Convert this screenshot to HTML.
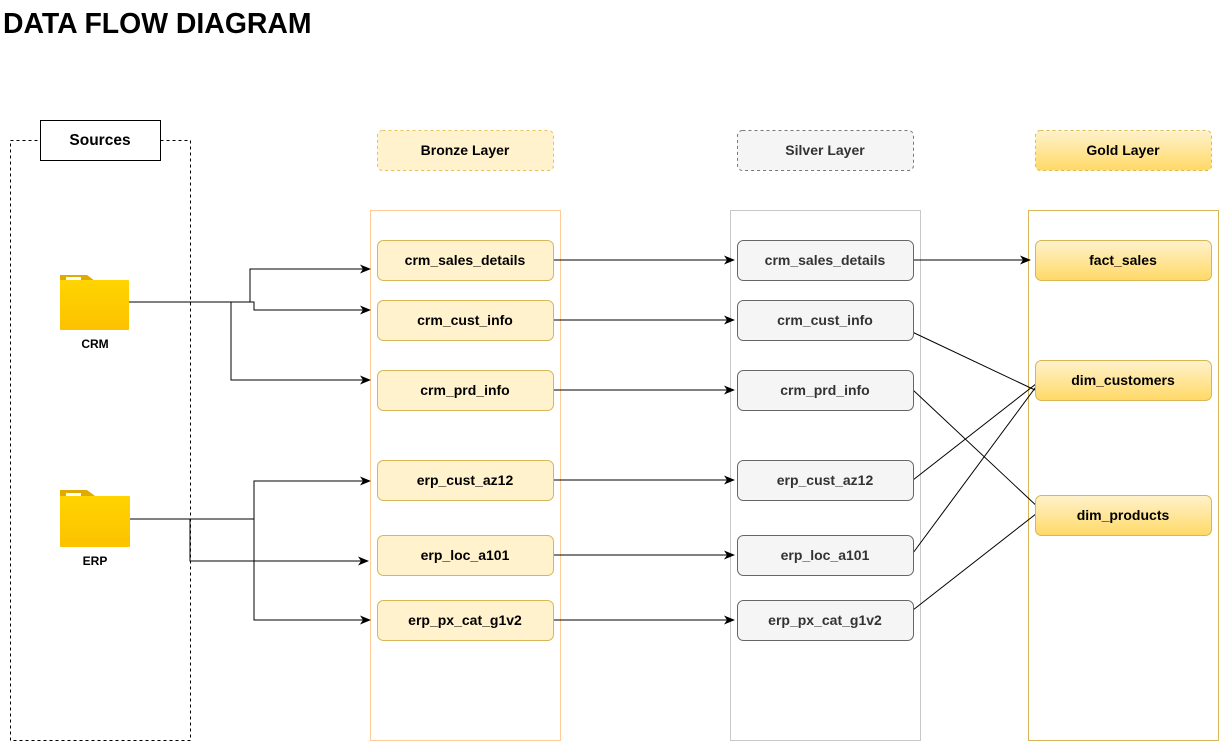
<!DOCTYPE html>
<html><head><meta charset="utf-8"><style>
html,body{margin:0;padding:0;background:#fff;width:1219px;height:741px;overflow:hidden}
svg{display:block}
text{font-family:"Liberation Sans",Arial,sans-serif;font-weight:bold}
</style></head><body>
<svg width="1219" height="741" viewBox="0 0 1219 741" xmlns="http://www.w3.org/2000/svg">
<defs>
<linearGradient id="gy" x1="0" y1="0" x2="0" y2="1"><stop offset="0" stop-color="#fff2cc"/><stop offset="1" stop-color="#ffd966"/></linearGradient>
<linearGradient id="fold" x1="0" y1="0" x2="0" y2="1"><stop offset="0" stop-color="#ffd400"/><stop offset="1" stop-color="#fcc200"/></linearGradient>
<marker id="ar" markerWidth="11" markerHeight="9" refX="10" refY="4.5" orient="auto" markerUnits="userSpaceOnUse"><path d="M0,0 L11,4.5 L0,9 L3,4.5 Z" fill="#000"/></marker>
</defs>
<text x="3" y="33" font-size="28.4">DATA FLOW DIAGRAM</text>

<rect x="10.5" y="140.5" width="180" height="600" fill="none" stroke="#000" stroke-dasharray="3,3"/>
<rect x="40.5" y="120.5" width="120" height="40" fill="#fff" stroke="#000"/>
<text x="100" y="145" font-size="15.5" text-anchor="middle">Sources</text>

<g>
<path d="M60,275 h27 l8,6 v10 h-35 z" fill="#e0aa00"/>
<rect x="66" y="277" width="15" height="3" fill="#fff"/>
<rect x="60" y="280" width="69" height="50" rx="1" fill="url(#fold)"/>
<text x="95" y="348" font-size="12" text-anchor="middle">CRM</text>
</g>
<g>
<path d="M60,490 h27 l8,6 v10 h-35 z" fill="#e0aa00"/>
<rect x="66" y="493" width="15" height="3" fill="#fff"/>
<rect x="60" y="496" width="70" height="51" rx="1" fill="url(#fold)"/>
<text x="95" y="565" font-size="12" text-anchor="middle">ERP</text>
</g>

<rect x="377.5" y="130.5" width="176" height="40" rx="5" fill="#fff2cc" stroke="#e8c15a" stroke-dasharray="3,3"/>
<text x="465" y="155" font-size="14" text-anchor="middle">Bronze Layer</text>
<rect x="737.5" y="130.5" width="176" height="40" rx="5" fill="#f5f5f5" stroke="#777" stroke-dasharray="3,3"/>
<text x="825" y="155" font-size="14" text-anchor="middle" fill="#333">Silver Layer</text>
<rect x="1035.5" y="130.5" width="176" height="40" rx="5" fill="url(#gy)" stroke="#e0bb4a" stroke-dasharray="3,3"/>
<text x="1123" y="155" font-size="14" text-anchor="middle">Gold Layer</text>

<rect x="370.5" y="210.5" width="190" height="530" fill="none" stroke="#ffcc99"/>
<rect x="730.5" y="210.5" width="190" height="530" fill="none" stroke="#c8c8c8"/>
<rect x="1028.5" y="210.5" width="190" height="530" fill="none" stroke="#d6b656"/>

<g fill="none" stroke="#000" stroke-width="1">
<path d="M129,302 H250 V269 H370" marker-end="url(#ar)"/>
<path d="M250,302 H254 V310 H370" marker-end="url(#ar)"/>
<path d="M231,302 V380 H370" marker-end="url(#ar)"/>
<path d="M130,519 H254 V481 H370" marker-end="url(#ar)"/>
<path d="M190,519 V561 H368" marker-end="url(#ar)"/>
<path d="M254,519 V620 H370" marker-end="url(#ar)"/>
<path d="M553,260 H734" marker-end="url(#ar)"/>
<path d="M553,320 H734" marker-end="url(#ar)"/>
<path d="M553,390 H734" marker-end="url(#ar)"/>
<path d="M553,480 H734" marker-end="url(#ar)"/>
<path d="M553,555 H734" marker-end="url(#ar)"/>
<path d="M553,620 H734" marker-end="url(#ar)"/>
<path d="M913,260 H1030" marker-end="url(#ar)"/>
<path d="M908,330 L1035,390"/>
<path d="M913,390 L1041,510"/>
<path d="M913,480 L1041,380"/>
<path d="M913,553 L1041,380"/>
<path d="M913,610 L1041,510"/>
</g>

<g font-size="14" text-anchor="middle">
<rect x="377.5" y="240.5" width="176" height="40" rx="6" fill="#fff2cc" stroke="#d6b656"/>
<text x="465" y="265">crm_sales_details</text>
<rect x="377.5" y="300.5" width="176" height="40" rx="6" fill="#fff2cc" stroke="#d6b656"/>
<text x="465" y="325">crm_cust_info</text>
<rect x="377.5" y="370.5" width="176" height="40" rx="6" fill="#fff2cc" stroke="#d6b656"/>
<text x="465" y="395">crm_prd_info</text>
<rect x="377.5" y="460.5" width="176" height="40" rx="6" fill="#fff2cc" stroke="#d6b656"/>
<text x="465" y="485">erp_cust_az12</text>
<rect x="377.5" y="535.5" width="176" height="40" rx="6" fill="#fff2cc" stroke="#d6b656"/>
<text x="465" y="560">erp_loc_a101</text>
<rect x="377.5" y="600.5" width="176" height="40" rx="6" fill="#fff2cc" stroke="#d6b656"/>
<text x="465" y="625">erp_px_cat_g1v2</text>
</g>
<g font-size="14" text-anchor="middle" fill="#333">
<rect x="737.5" y="240.5" width="176" height="40" rx="6" fill="#f5f5f5" stroke="#666"/>
<text x="825" y="265">crm_sales_details</text>
<rect x="737.5" y="300.5" width="176" height="40" rx="6" fill="#f5f5f5" stroke="#666"/>
<text x="825" y="325">crm_cust_info</text>
<rect x="737.5" y="370.5" width="176" height="40" rx="6" fill="#f5f5f5" stroke="#666"/>
<text x="825" y="395">crm_prd_info</text>
<rect x="737.5" y="460.5" width="176" height="40" rx="6" fill="#f5f5f5" stroke="#666"/>
<text x="825" y="485">erp_cust_az12</text>
<rect x="737.5" y="535.5" width="176" height="40" rx="6" fill="#f5f5f5" stroke="#666"/>
<text x="825" y="560">erp_loc_a101</text>
<rect x="737.5" y="600.5" width="176" height="40" rx="6" fill="#f5f5f5" stroke="#666"/>
<text x="825" y="625">erp_px_cat_g1v2</text>
</g>
<g font-size="14" text-anchor="middle">
<rect x="1035.5" y="240.5" width="176" height="40" rx="6" fill="url(#gy)" stroke="#d6b656"/>
<text x="1123" y="265">fact_sales</text>
<rect x="1035.5" y="360.5" width="176" height="40" rx="6" fill="url(#gy)" stroke="#d6b656"/>
<text x="1123" y="385">dim_customers</text>
<rect x="1035.5" y="495.5" width="176" height="40" rx="6" fill="url(#gy)" stroke="#d6b656"/>
<text x="1123" y="520">dim_products</text>
</g>
</svg>
</body></html>
